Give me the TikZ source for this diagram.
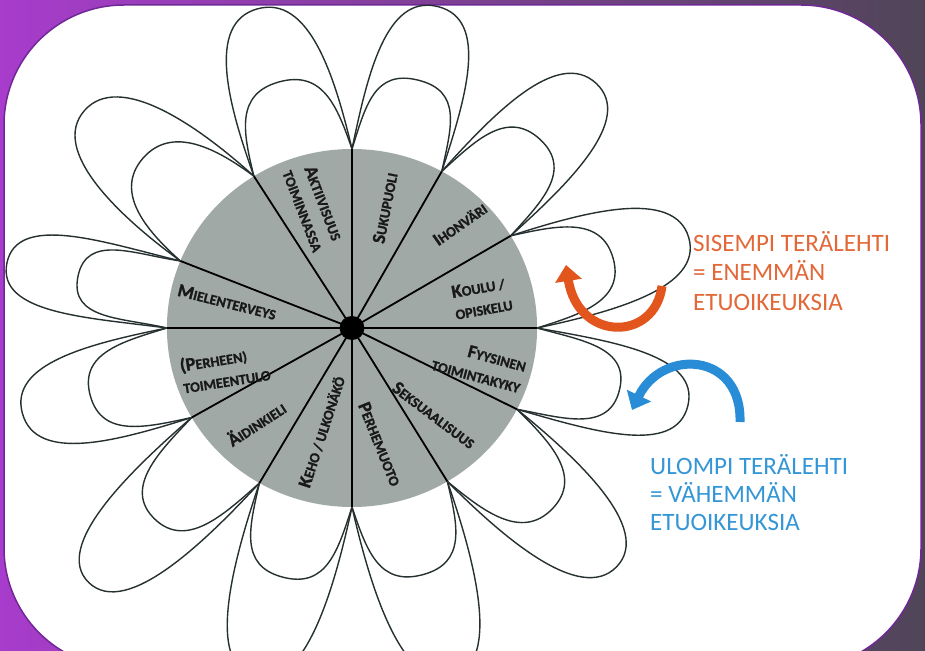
\documentclass[tikz,border=0pt]{standalone}
\usepackage{fontspec}
\setmainfont{Carlito}
\newfontfamily\lblfont{Carlito Bold}[FakeBold=1.2]
\usetikzlibrary{arrows.meta,calc}
\definecolor{wheelgray}{RGB}{161,169,166}
\definecolor{petalcol}{RGB}{38,48,48}
\definecolor{framel}{RGB}{168,60,204}
\definecolor{framer}{RGB}{80,69,88}
\definecolor{frameline}{RGB}{112,40,150}
\definecolor{innerorange}{RGB}{226,104,56}
\definecolor{outerblue}{RGB}{52,150,214}
\definecolor{arroworange}{RGB}{226,86,30}
\definecolor{arrowblue}{RGB}{40,140,215}
\newcommand\bigletter[1]{{\fontsize{18.5}{18}\selectfont #1}}
\begin{document}
\begin{tikzpicture}[x=1pt,y=1pt,
  petal/.style={draw=petalcol, line width=1.4pt},
  divider/.style={line width=1.8pt, black},
  wlabel/.style={font=\lblfont\fontsize{14.3}{22}\selectfont, inner sep=0pt, text=black!90},
  sidetext/.style={font=\fontsize{25}{25}\selectfont, inner sep=0pt, anchor=base west},
  bigarrow/.style={line width=9pt, -{Triangle[length=16pt,width=26pt]}},
]
\useasboundingbox (0,-650) rectangle (925,0);
\clip (0,-650) rectangle (925,0);
\shade[left color=framel, right color=framer] (0,-650) rectangle (925,0);
\draw[frameline, line width=1.5pt, fill=white, rounded corners=120pt] (4,-668) rectangle (921,-5);

\begin{scope}[shift={(352,-328)}, xscale=1.034]
  % petals: angle a / angle b / outer length / inner length
  \foreach \a/\b/\lo/\li in {0/31/338/262, 31/61/340/262, 61/90/332/256, 90/122/332/256,
      122/158/338/264, 158/180/340/270, 180/210/330/262, 210/240/360/270,
      240/270/362/258, 270/301/362/256, 301/333/350/265, 333/360/334/266} {
    \pgfmathsetmacro\m{(\a+\b)/2}
    \pgfmathsetmacro\h{(\b-\a)/2}
    \begin{scope}[rotate=\m]
      \coordinate (pa) at (\h:179);
      \coordinate (pb) at (-\h:179);
      \draw[petal] (pa) .. controls ($(pa)+(75,4)$) and (\lo,52) .. (\lo,0)
                   .. controls (\lo,-52) and ($(pb)+(75,-4)$) .. (pb);
      \draw[petal] (pa) .. controls ($(pa)+(45,-2)$) and (\li,44) .. (\li,0)
                   .. controls (\li,-44) and ($(pb)+(45,2)$) .. (pb);
    \end{scope}
  }
  \fill[wheelgray] (0,0) circle (179);
  \coordinate (ctr) at (0,0);
  \foreach \a in {0,31,61,90,122,158,180,210,240,270,301,333} {
    \coordinate (anc\a) at (\a:179);
    \draw[divider] (ctr) -- (anc\a);
  }
  \fill[black] (ctr) circle (12);
\end{scope}

\node[wlabel, rotate=-69, align=center] (lAkt) at (313.5,-207) {\bigletter{A}KTIIVISUUS\\TOIMINNASSA};
\node[wlabel, rotate=79] (lSuk) at (385,-208) {\bigletter{S}UKUPUOLI};
\node[wlabel, rotate=35] (lIho) at (460,-224) {\bigletter{I}HONVÄRI};
\node[wlabel, rotate=10, align=left] (lKou) at (482,-298) {\bigletter{K}OULU /\\OPISKELU};
\node[wlabel, rotate=-15, align=right] (lFyy) at (479,-365) {\bigletter{F}YYSINEN\\TOIMINTAKYKY};
\node[wlabel, rotate=-37] (lSek) at (434,-415) {\bigletter{S}EKSUAALISUUS};
\node[wlabel, rotate=-68] (lPhm) at (380,-444) {\bigletter{P}ERHEMUOTO};
\node[wlabel, rotate=72] (lKeh) at (322,-432) {\bigletter{K}EHO / ULKONÄKÖ};
\node[wlabel, rotate=33] (lAid) at (256,-423) {\bigletter{Ä}IDINKIELI};
\node[wlabel, rotate=9, align=left] (lToi) at (225,-369) {\bigletter{(P}ERHEEN)\\TOIMEENTULO};
\node[wlabel, rotate=-14] (lMie) at (227,-302) {\bigletter{M}IELENTERVEYS};

\node[sidetext, text=innerorange] (o1) at (693,-251) {SISEMPI TERÄLEHTI};
\node[sidetext, text=innerorange] (o2) at (693,-280.5) {= ENEMMÄN};
\node[sidetext, text=innerorange] (o3) at (693,-310) {ETUOIKEUKSIA};
\node[sidetext, text=outerblue] (b1) at (650,-474) {ULOMPI TERÄLEHTI};
\node[sidetext, text=outerblue] (b2) at (650,-502) {= VÄHEMMÄN};
\node[sidetext, text=outerblue] (b3) at (650,-530) {ETUOIKEUKSIA};

\coordinate (oaS) at (662,-286);
\coordinate (oaE) at (566,-265);
\draw[bigarrow, arroworange] (oaS) .. controls (655,-342) and (578,-342) .. (oaE);
\coordinate (baS) at (740,-422);
\coordinate (baE) at (632,-410);
\draw[bigarrow, arrowblue] (baS) .. controls (742,-352) and (662,-348) .. (baE);
\end{tikzpicture}
\end{document}
